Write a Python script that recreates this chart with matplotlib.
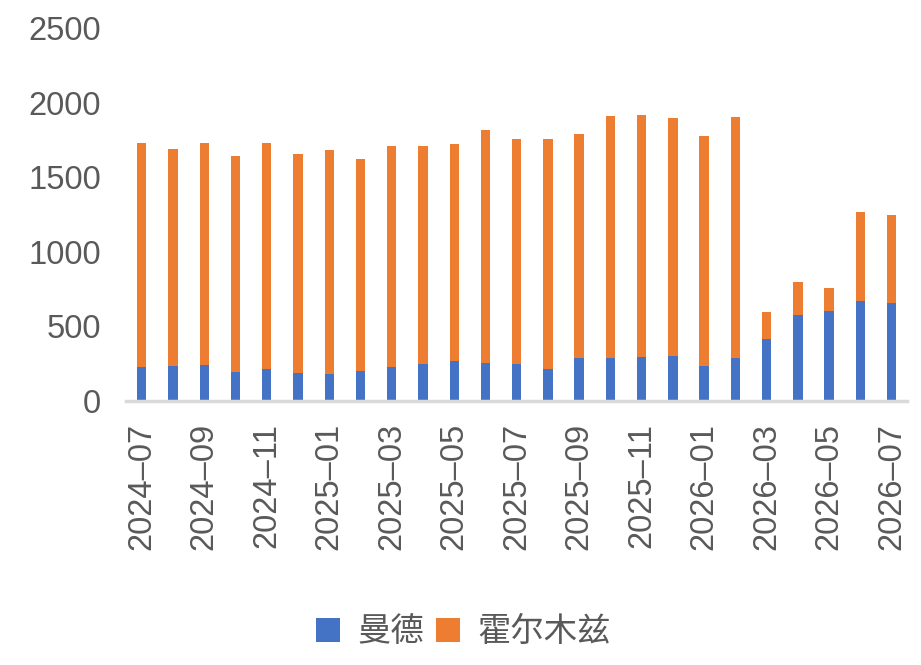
import numpy as np
import matplotlib
matplotlib.use('Agg')
import matplotlib.pyplot as plt

plt.rcParams['font.family'] = ['Noto Sans CJK SC', 'DejaVu Sans']

# 月份
months = ['2024-07', '2024-08', '2024-09', '2024-10', '2024-11', '2024-12',
          '2025-01', '2025-02', '2025-03', '2025-04', '2025-05', '2025-06',
          '2025-07', '2025-08', '2025-09', '2025-10', '2025-11', '2025-12',
          '2026-01', '2026-02', '2026-03', '2026-04', '2026-05', '2026-06',
          '2026-07']

# 曼德（底部）
mande = [228, 235, 241, 194, 214, 188, 181, 201, 228, 248, 268, 255,
         248, 214, 288, 288, 295, 302, 235, 288, 415, 576, 603, 670, 657]

# 合计高度
total = [1729, 1688, 1729, 1642, 1729, 1655, 1682, 1621, 1708, 1708, 1722, 1816,
         1755, 1755, 1789, 1910, 1916, 1896, 1776, 1903, 596, 797, 757, 1266, 1246]

hormuz = [t - m for t, m in zip(total, mande)]

fig = plt.figure(figsize=(9.21, 6.65), dpi=100)
ax = fig.add_axes([0.137, 0.397, 0.848, 0.561])

x = np.arange(len(months))
ax.bar(x, mande, width=0.3, color='#4472C4', label='曼德')
ax.bar(x, hormuz, width=0.3, bottom=mande, color='#ED7D31', label='霍尔木兹')

ax.set_xlim(-0.5, len(months) - 0.5)
ax.set_ylim(0, 2500)
ax.set_yticks(range(0, 2501, 500))
ax.set_xticks(x[::2])
ax.set_xticklabels([m.replace('-', '\u2013') for m in months[::2]], rotation=90)

for s in ['top', 'right', 'left']:
    ax.spines[s].set_visible(False)
ax.spines['bottom'].set_color('#d9d9d9')
ax.spines['bottom'].set_linewidth(2.5)
ax.tick_params(axis='both', length=0, labelsize=23.5, colors='#595959')
ax.tick_params(axis='y', pad=18)
ax.tick_params(axis='x', pad=16)
for lab in ax.get_xticklabels() + ax.get_yticklabels():
    lab.set_family('Liberation Sans')

fig.legend(loc='center', bbox_to_anchor=(0.503, 0.05), ncol=2, frameon=False,
           fontsize=24, handlelength=0.73, handleheight=0.73, handletextpad=0.5,
           columnspacing=0.36, labelcolor='#595959')

fig.savefig('out.png', dpi=100)
